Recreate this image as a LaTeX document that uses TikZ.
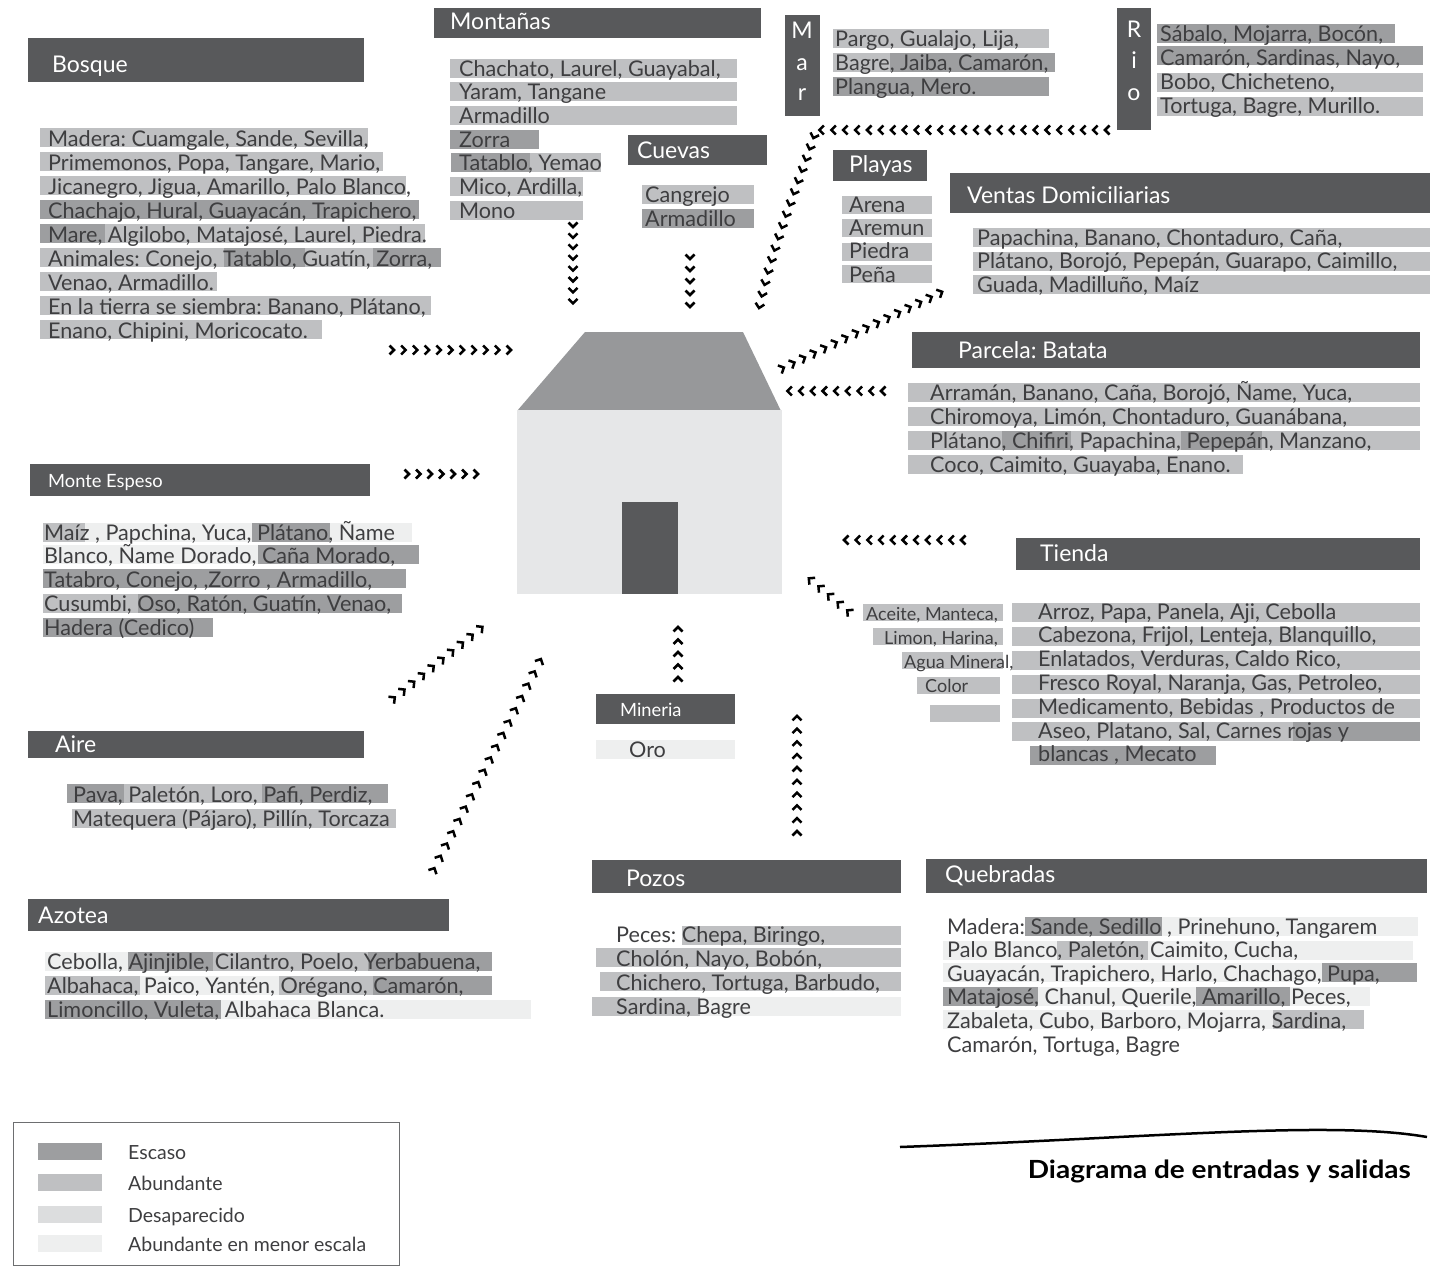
\documentclass[tikz,border=0pt]{standalone}
\usepackage{fontspec}
\setmainfont{Lato}
\usepackage{xcolor}
\usetikzlibrary{decorations.markings}

\definecolor{hdr}{HTML}{58595B}
\definecolor{esc}{HTML}{9D9EA0}
\definecolor{abu}{HTML}{BFC0C2}
\definecolor{des}{HTML}{DCDDDE}
\definecolor{men}{HTML}{EEEFEF}
\definecolor{ink}{HTML}{3E3E40}
\definecolor{techo}{HTML}{97989A}
\definecolor{muro}{HTML}{E6E7E8}
\definecolor{marco}{HTML}{6D6E70}

\newcommand{\cuerpo}{\fontsize{21.6}{24}\selectfont}
\newcommand{\cabeza}{\fontsize{23}{26}\selectfont}
\newcommand{\cabezita}{\fontsize{18.3}{20}\selectfont}
\newcommand{\chico}{\fontsize{18}{20}\selectfont}
\newcommand{\leyenda}{\fontsize{19.5}{22}\selectfont}
\newcommand{\titulo}{\fontsize{25}{28}\selectfont\bfseries}

\tikzset{flecha/.style={decoration={markings,
        mark=between positions 0 and 1 step #1 with {\draw[chevron] (-3.5,-4.5) -- (1,0) -- (-3.5,4.5);}},
        decorate}}

\begin{document}
\frenchspacing
\begin{tikzpicture}[x=1pt,y=-1pt]
        \tikzstyle{txt} = [anchor=base west, inner sep=0pt, text=ink, font=\cuerpo]
        \tikzstyle{htxt} = [anchor=base west, inner sep=0pt, text=white, font=\cabeza]
        \tikzstyle{chevron} = [line width=2.5pt, black, line join=miter]

        \fill[white] (0,0) rectangle (1436,1274);
        \useasboundingbox (0,0) rectangle (1436,1274);

        % casa
        \fill[techo] (517,411) -- (585,332) -- (743,332) -- (781,411) -- cycle;
        \fill[muro] (517,410) rectangle (782,594);
        \fill[hdr] (622,502) rectangle (678,594);

        % encabezados
        \foreach \a/\b/\c/\d in {28/38/364/82, 434/8/761/38, 628/135/767/165, 785/15/820/116,
                1117/8/1151/130, 833/150/927/181, 950/173/1430/213, 912/332/1420/368,
                30/464/370/496, 1016/538/1420/570, 596/694/735/724, 592/860/901/893,
                926/859/1427/893, 28/731/364/758, 28/899/449/931}
                \fill[hdr] (\a,\b) rectangle (\c,\d);

        \node[htxt] (bosque) at (52,72) {Bosque};
        \node[htxt] (montanas) at (450,30) {Montañas};
        \node[htxt] (cuevas) at (637,158) {Cuevas};
        \node[htxt] (playas) at (849,172) {Playas};
        \node[htxt] (ventas) at (967,203) {Ventas Domiciliarias};
        \node[htxt] (parcela) at (958,358) {Parcela: Batata};
        \node[htxt, font=\cabezita] (monte) at (48,487) {Monte Espeso};
        \node[htxt] (tienda) at (1040,561) {Tienda};
        \node[htxt, font=\cabezita] (mineria) at (620,716) {Mineria};
        \node[htxt] (pozos) at (626,886) {Pozos};
        \node[htxt] (quebradas) at (945,882) {Quebradas};
        \node[htxt] (aire) at (55,752) {Aire};
        \node[htxt] (azotea) at (38,923) {Azotea};
        \foreach \l/\y in {M/38,a/70,r/100}
                \node[htxt, anchor=base] (mar\l) at (802,\y) {\l};
        \foreach \l/\y in {R/37,i/68,o/100}
                \node[htxt, anchor=base] (rio\l) at (1134,\y) {\l};

        % resaltados: x1/x2/y/color
        \foreach \a/\b/\y/\c in {
                40/368/128/abu, 40/383/152/abu, 40/406/176/abu, 40/419/200/esc,
                40/105/224/esc, 105/425/224/abu,
                40/224/248/abu, 224/305/248/esc, 305/373/248/abu, 373/441/248/esc,
                40/217/272/abu, 40/431/296/abu, 40/322/320/abu,
                450/737/58.5/abu, 450/737/82.2/abu, 450/737/105.9/abu, 450/539/129.6/esc,
                451/530/153.3/esc, 530/601/153.3/abu, 450/583/177/abu, 450/583/200.7/abu,
                642/754/185/abu, 642/754/209/esc,
                833/1049/29/abu, 833/890/53/abu, 890/1055/53/esc, 833/1049/77/esc,
                1157/1395/24/esc, 1157/1423/46/esc, 1157/1423/73/abu, 1157/1423/97/abu,
                973/1430/228/abu, 973/1430/252/abu, 973/1430/275/abu,
                908/1420/383/abu, 908/1420/407/abu,
                908/1002/431/abu, 1002/1071/431/esc, 1071/1181/431/abu, 1181/1262/431/esc, 1262/1420/431/abu,
                908/1243/455/abu,
                43/85/523/abu, 85/252/523/men, 252/330/523/esc, 330/412/523/men,
                43/258/545/men, 258/419/545/esc, 43/406/569/esc,
                43/138/594/abu, 138/402/594/esc, 43/213/618/esc,
                1012/1420/603/abu, 1012/1420/627/abu, 1012/1420/651/abu, 1012/1420/675/abu,
                1012/1420/699/abu, 1012/1293/722/abu, 1293/1420/722/esc, 1030/1216/746/esc,
                596/735/740/men,
                682/901/926/abu, 596/901/948/abu, 600/901/972/abu, 592/700/997/abu, 700/901/997/men,
                1025/1162/917/esc, 1162/1418/917/men,
                943/1057/941/men, 1057/1148/941/abu, 1148/1413/941/men,
                943/1322/963/men, 1322/1417/963/esc,
                943/1038/987/esc, 1038/1196/987/men, 1196/1290/987/esc, 1290/1370/987/men,
                943/1273/1010/men, 1273/1364/1010/abu,
                67/124/784/esc, 124/262/784/abu, 262/388/784/esc, 72/396/809/abu,
                45/128/952/men, 128/213/952/esc, 213/368/952/abu, 368/492/952/esc,
                45/140/976/abu, 140/279/976/men, 279/373/976/abu, 373/492/976/esc,
                45/221/1000/esc, 221/531/1000/men}
                \fill[fill=\c] (\a,\y) rectangle (\b,\y+19);
        \foreach \a/\b/\y in {842/932/196, 842/932/219, 842/932/243, 842/932/265}
                \fill[abu] (\a,\y) rectangle (\b,\y+18);
        \foreach \a/\b/\y in {863/1003/604, 873/1003/628, 902/1003/652, 917/1000/677, 930/1000/705}
                \fill[abu] (\a,\y) rectangle (\b,\y+17);

        % textos
        \foreach \t [count=\i from 0] in {{Madera: Cuamgale, Sande, Sevilla,},
                {Primemonos, Popa, Tangare, Mario,}, {Jicanegro, Jigua, Amarillo, Palo Blanco,},
                {Chachajo, Hural, Guayacán, Trapichero,}, {Mare, Algilobo, Matajosé, Laurel, Piedra.},
                {Animales: Conejo, Tatablo, Guatín, Zorra,}, {Venao, Armadillo.},
                {En la tierra se siembra: Banano, Plátano,}, {Enano,  Chipini, Moricocato.}}
                \node[txt] (bq\i) at (48,146+24*\i) {\t};
        \foreach \t [count=\i from 0] in {{Chachato, Laurel, Guayabal,}, {Yaram, Tangane},
                {Armadillo}, {Zorra}, {Tatablo, Yemao}, {Mico, Ardilla,}, {Mono}}
                \node[txt] (mt\i) at (459,76+23.7*\i) {\t};
        \foreach \t [count=\i from 0] in {Cangrejo, Armadillo}
                \node[txt] (cv\i) at (645,202+24*\i) {\t};
        \foreach \t [count=\i from 0] in {{Pargo, Gualajo, Lija,}, {Bagre, Jaiba, Camarón,}, {Plangua, Mero.}}
                \node[txt] (mr\i) at (835,46+24*\i) {\t};
        \foreach \t [count=\i from 0] in {{Sábalo, Mojarra, Bocón,}, {Camarón, Sardinas, Nayo,},
                {Bobo, Chicheteno,}, {Tortuga, Bagre, Murillo.}}
                \node[txt] (ri\i) at (1160,41+24*\i) {\t};
        \foreach \t [count=\i from 0] in {Arena, Aremun, Piedra, Peña}
                \node[txt] (pl\i) at (849,212+23.4*\i) {\t};
        \foreach \t [count=\i from 0] in {{Papachina, Banano, Chontaduro, Caña,},
                {Plátano, Borojó, Pepepán, Guarapo, Caimillo,}, {Guada, Madilluño, Maíz}}
                \node[txt] (vd\i) at (977,245+23.5*\i) {\t};
        \foreach \t [count=\i from 0] in {{Arramán, Banano, Caña, Borojó, Ñame, Yuca,},
                {Chiromoya, Limón, Chontaduro, Guanábana,},
                {Plátano, Chifiri, Papachina, Pepepán, Manzano,}, {Coco, Caimito, Guayaba, Enano.}}
                \node[txt] (pc\i) at (930,400+24*\i) {\t};
        \foreach \t [count=\i from 0] in {{Maíz , Papchina, Yuca, Plátano, Ñame},
                {Blanco, Ñame Dorado, Caña Morado,}, {Tatabro, Conejo, ,Zorro , Armadillo,},
                {Cusumbi, Oso, Ratón, Guatín, Venao,}, {Hadera (Cedico)}}
                \node[txt] (me\i) at (44,540+23.8*\i) {\t};
        \foreach \t [count=\i from 0] in {{Arroz, Papa, Panela, Aji, Cebolla},
                {Cabezona, Frijol, Lenteja, Blanquillo,}, {Enlatados, Verduras, Caldo Rico,},
                {Fresco Royal, Naranja, Gas, Petroleo,}, {Medicamento, Bebidas , Productos de},
                {Aseo, Platano, Sal, Carnes rojas y}, {blancas , Mecato}}
                \node[txt] (td\i) at (1038,619+23.8*\i) {\t};
        \foreach \t/\x [count=\i from 0] in {{Aceite, Manteca,}/866, {Limon, Harina,}/884,
                {Agua Mineral,}/904, {Color}/925}
                \node[txt, font=\chico] (tc\i) at (\x,620+24*\i) {\t};
        \node[txt] (oro) at (629,757) {Oro};
        \foreach \t [count=\i from 0] in {{Peces: Chepa, Biringo,}, {Cholón, Nayo, Bobón,},
                {Chichero, Tortuga, Barbudo,}, {Sardina, Bagre}}
                \node[txt] (pz\i) at (616,942+24*\i) {\t};
        \foreach \t [count=\i from 0] in {{Madera: Sande, Sedillo , Prinehuno, Tangarem},
                {Palo Blanco, Paletón, Caimito, Cucha,}, {Guayacán, Trapichero, Harlo, Chachago, Pupa,},
                {Matajosé, Chanul, Querile, Amarillo, Peces,}, {Zabaleta, Cubo, Barboro, Mojarra, Sardina,},
                {Camarón, Tortuga, Bagre}}
                \node[txt] (qb\i) at (947,934+23.6*\i) {\t};
        \foreach \t [count=\i from 0] in {{Pava, Paletón, Loro, Pafi, Perdiz,},
                {Matequera (Pájaro), Pillín, Torcaza}}
                \node[txt] (ai\i) at (73,802+24*\i) {\t};
        \foreach \t [count=\i from 0] in {{Cebolla, Ajinjible, Cilantro, Poelo, Yerbabuena,},
                {Albahaca, Paico, Yantén, Orégano, Camarón,}, {Limoncillo, Vuleta, Albahaca Blanca.}}
                \node[txt] (az\i) at (47,969+24*\i) {\t};

        % flechas
        \coordinate (bq-a) at (393,350);   \coordinate (bq-b) at (512,350);
        \coordinate (me-a) at (408,474);   \coordinate (me-b) at (478,474);
        \coordinate (mt-a) at (573,226);   \coordinate (mt-b) at (573,304);
        \coordinate (cv-a) at (690,258);   \coordinate (cv-b) at (690,310);
        \coordinate (ri-a) at (1106,130);  \coordinate (ri-b) at (816,130);
        \coordinate (ri-c) at (757,318);
        \coordinate (vd-a) at (783,368);   \coordinate (vd-b) at (946,290);
        \coordinate (pc-a) at (882,391);   \coordinate (pc-b) at (788,391);
        \coordinate (td-a) at (962,540);   \coordinate (td-b) at (843,540);
        \coordinate (tc-a) at (848,611);   \coordinate (tc-b) at (806,576);
        \coordinate (mn-a) at (678,678);   \coordinate (mn-b) at (678,623);
        \coordinate (pz-a) at (797,832);   \coordinate (pz-b) at (797,714);
        \coordinate (ai-a) at (394,698);   \coordinate (ai-b) at (486,624);
        \coordinate (az-a) at (434,869);   \coordinate (az-b) at (543,655);

        \path[flecha=11.7pt] (bq-a) -- (bq-b);
        \path[flecha=11.5pt] (me-a) -- (me-b);
        \path[flecha=10.9pt] (mt-a) -- (mt-b);
        \path[flecha=12pt] (cv-a) -- (cv-b);
        \path[flecha=11.9pt] (ri-a) -- (ri-b) .. controls (800,180) and (770,250) .. (ri-c);
        \path[flecha=11.7pt] (vd-a) -- (vd-b);
        \path[flecha=11.7pt] (pc-a) -- (pc-b);
        \path[flecha=11.7pt] (td-a) -- (td-b);
        \path[flecha=12.5pt] (tc-a) -- (tc-b);
        \path[flecha=12.5pt] (mn-a) -- (mn-b);
        \path[flecha=12.8pt] (pz-a) -- (pz-b);
        \path[flecha=12.5pt] (ai-a) -- (ai-b);
        \path[flecha=13.8pt] (az-a) -- (az-b);

        % leyenda
        \draw[marco, line width=1pt] (13,1122) rectangle (399,1265);
        \foreach \c/\y/\t [count=\i] in {esc/1143/Escaso, abu/1174/Abundante,
                des/1206/Desaparecido, men/1235/Abundante en menor escala}
        {
                \fill[\c] (38,\y) rectangle (102,\y+17);
                \node[txt, font=\leyenda] (ley\i) at (128,\y+16) {\t};
        }

        % titulo
        \coordinate (lin-a) at (900,1147);
        \coordinate (lin-b) at (1427,1137);
        \draw[line width=2.5pt] (lin-a) .. controls (1150,1138) and (1330,1120) .. (lin-b);
        \node[anchor=base east, inner sep=0pt, font=\titulo] (titulo) at (1411,1178)
                {\scalebox{1.12}[1]{Diagrama de entradas y salidas}};
\end{tikzpicture}
\end{document}
